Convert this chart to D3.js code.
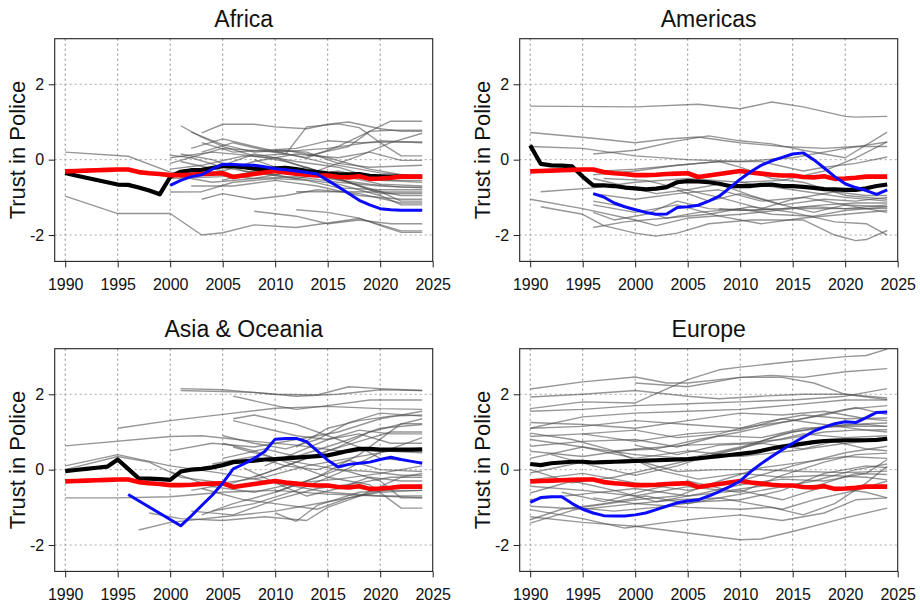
<!DOCTYPE html>
<html>
<head>
<meta charset="utf-8">
<script src="https://cdn.jsdelivr.net/npm/d3@7"></script>
<style>
  html, body { margin: 0; padding: 0; background: #fff; }
  svg { display: block; font-family: "Liberation Sans", Arial, Helvetica, sans-serif; }
</style>
</head>
<body>
<svg id="chart" width="920" height="605"></svg>
<script>
// ---- Axis ticks and panel names ----
const regions = ["Africa", "Americas", "Asia & Oceania", "Europe"];
const xTicks = [1990, 1995, 2000, 2005, 2010, 2015, 2020, 2025];
const yTicks = [-2, 0, 2];

// ---- Global mean (drawn in every panel) ----
const worldStart = 1990;
const worldMean = [-0.31, -0.30, -0.29, -0.28, -0.27, -0.26, -0.26, -0.33, -0.36, -0.38,
                   -0.41, -0.41, -0.40, -0.38, -0.37, -0.36, -0.46, -0.42, -0.38, -0.34,
                   -0.30, -0.34, -0.37, -0.40, -0.42, -0.42, -0.46, -0.47, -0.44, -0.51,
                   -0.50, -0.48, -0.45, -0.45, -0.45];

// ---- Regional means ----
const africaMean = [-0.35, -0.42, -0.48, -0.54, -0.60, -0.66, -0.67, -0.74, -0.82, -0.92,
                    -0.46, -0.32, -0.28, -0.27, -0.22, -0.17, -0.17, -0.20, -0.24, -0.25,
                    -0.23, -0.22, -0.25, -0.30, -0.33, -0.36, -0.38, -0.39, -0.38, -0.43,
                    -0.44, -0.45, -0.45, -0.46, -0.46];
const americasMean = [0.38, -0.11, -0.15, -0.16, -0.18, -0.45, -0.68, -0.68, -0.70, -0.74,
                      -0.76, -0.79, -0.77, -0.73, -0.60, -0.57, -0.58, -0.60, -0.64, -0.70,
                      -0.70, -0.70, -0.67, -0.66, -0.70, -0.70, -0.72, -0.75, -0.78, -0.79,
                      -0.80, -0.80, -0.76, -0.70, -0.66];
const asiaMean = [-0.04, -0.01, 0.02, 0.05, 0.08, 0.27, 0.02, -0.23, -0.24, -0.25,
                  -0.27, -0.05, 0.00, 0.02, 0.06, 0.12, 0.20, 0.22, 0.24, 0.27,
                  0.28, 0.30, 0.32, 0.34, 0.36, 0.38, 0.44, 0.50, 0.55, 0.55,
                  0.53, 0.53, 0.53, 0.53, 0.54];
const europeMean = [0.15, 0.12, 0.17, 0.19, 0.21, 0.21, 0.19, 0.20, 0.21, 0.22,
                    0.23, 0.24, 0.25, 0.26, 0.27, 0.28, 0.30, 0.33, 0.36, 0.39,
                    0.42, 0.45, 0.50, 0.56, 0.61, 0.65, 0.69, 0.73, 0.76, 0.77,
                    0.78, 0.78, 0.78, 0.79, 0.82];

// ---- Highlighted country in each region ([year, value]) ----
const africaFocus = [[2000,-0.68],[2001,-0.55],[2002,-0.45],[2003,-0.40],[2004,-0.25],[2005,-0.12],[2006,-0.13],[2007,-0.14],[2008,-0.15],[2009,-0.19],
                     [2010,-0.24],[2011,-0.27],[2012,-0.30],[2013,-0.34],[2014,-0.38],[2015,-0.55],[2016,-0.72],[2017,-0.90],[2018,-1.08],[2019,-1.20],
                     [2020,-1.30],[2021,-1.33],[2022,-1.34],[2023,-1.34],[2024,-1.34]];
const americasFocus = [[1996,-0.90],[1997,-0.99],[1998,-1.15],[1999,-1.25],
                       [2000,-1.33],[2001,-1.40],[2002,-1.45],[2003,-1.44],[2004,-1.27],[2005,-1.25],[2006,-1.21],[2007,-1.10],[2008,-0.97],[2009,-0.75],
                       [2010,-0.52],[2011,-0.32],[2012,-0.15],[2013,-0.03],[2014,0.06],[2015,0.15],[2016,0.18],[2017,0.00],[2018,-0.22],[2019,-0.45],
                       [2020,-0.64],[2021,-0.74],[2022,-0.82],[2023,-0.92],[2024,-0.80]];
const asiaFocus = [[1996,-0.66],[2001,-1.49],[2002,-1.23],[2003,-0.95],[2004,-0.68],[2005,-0.36],[2006,0.02],[2007,0.15],[2008,0.30],[2009,0.48],
                   [2010,0.81],[2011,0.83],[2012,0.83],[2013,0.74],[2014,0.50],[2015,0.25],[2016,0.07],[2017,0.14],[2018,0.17],[2019,0.20],
                   [2020,0.27],[2021,0.33],[2022,0.27],[2023,0.22],[2024,0.17]];
const europeFocus = [[1990,-0.87],[1991,-0.74],[1992,-0.72],[1993,-0.72],[1994,-0.90],[1995,-1.05],[1996,-1.15],[1997,-1.22],[1998,-1.23],[1999,-1.23],
                     [2000,-1.20],[2001,-1.15],[2002,-1.06],[2003,-0.97],[2004,-0.88],[2005,-0.83],[2006,-0.80],[2007,-0.70],[2008,-0.58],[2009,-0.45],
                     [2010,-0.30],[2011,-0.05],[2012,0.16],[2013,0.35],[2014,0.53],[2015,0.70],[2016,0.86],[2017,1.02],[2018,1.13],[2019,1.22],
                     [2020,1.27],[2021,1.25],[2022,1.38],[2023,1.52],[2024,1.53]];

// ---- Individual countries ([year, value] at each reading) ----
const africaCountries = [
  [[1990,0.20],[1996,0.09],[2000,-0.33],[2003,-0.35],[2008,-0.50],[2012,-0.45],[2016,-0.60],[2020,-0.70],[2024,-0.75]],
  [[1990,-0.97],[1995,-1.43],[2000,-1.43],[2003,-2.00],[2005,-1.94],[2008,-1.73],[2012,-1.80],[2015,-1.68],[2018,-1.56],[2022,-1.89],[2024,-1.89]],
  [[2003,0.71],[2005,0.94],[2008,0.94],[2010,0.87],[2013,0.82],[2015,0.94],[2017,1.00],[2020,0.82],[2022,0.75],[2024,0.75]],
  [[2013,0.10],[2017,0.35],[2019,0.75],[2021,1.02],[2024,1.02]],
  [[2001,0.90],[2003,0.60],[2005,0.35],[2008,0.10],[2011,-0.05],[2014,-0.30],[2017,-0.60],[2020,-0.85],[2022,-1.10],[2024,-1.10]],
  [[2000,0.05],[2004,0.20],[2008,0.10],[2011,0.15],[2013,0.87],[2016,0.95],[2018,0.85],[2020,0.45],[2022,0.10],[2024,0.10]],
  [[2000,-0.10],[2005,0.30],[2010,0.20],[2015,0.30],[2020,0.50],[2024,0.45]],
  [[2002,0.30],[2005,0.55],[2008,0.35],[2012,0.10],[2015,-0.10],[2020,-0.35],[2024,-0.45]],
  [[2000,-0.25],[2003,-0.15],[2007,0.10],[2010,0.05],[2014,-0.30],[2018,0.10],[2021,0.45],[2024,0.70]],
  [[2000,-0.86],[2003,-0.85],[2006,-0.60],[2010,-0.50],[2013,-0.55],[2016,-0.75],[2020,-0.80],[2024,-0.80]],
  [[2003,-1.05],[2005,-0.90],[2008,-1.05],[2011,-0.95],[2014,-0.80],[2018,-0.90],[2022,-1.15],[2024,-1.15]],
  [[2008,-1.37],[2012,-1.50],[2015,-1.70],[2018,-1.60],[2021,-1.70],[2024,-1.70]],
  [[2012,-1.33],[2015,-1.40],[2018,-1.55],[2020,-1.75],[2022,-1.93],[2024,-1.93]],
  [[2012,-0.85],[2016,-0.85],[2020,-0.86],[2024,-0.86]],
  [[2000,0.12],[2002,0.05],[2005,-0.20],[2008,-0.35],[2012,-0.50],[2016,-0.65],[2020,-0.95],[2022,-1.20],[2024,-1.20]],
  [[2001,-0.05],[2005,-0.30],[2008,-0.05],[2012,0.15],[2016,0.05],[2019,0.20],[2022,-0.02],[2024,-0.02]],
  [[2000,-0.50],[2005,-0.45],[2010,-0.25],[2015,-0.50],[2019,-0.65],[2022,-0.73],[2024,-0.73]],
  [[2005,-0.55],[2008,-0.30],[2012,-0.50],[2016,-0.30],[2020,-0.55],[2024,-0.60]],
  [[2003,0.20],[2006,0.45],[2009,0.25],[2012,0.30],[2015,0.50],[2018,0.45],[2021,0.47],[2024,0.47]],
  [[2000,-0.40],[2004,-0.60],[2008,-0.50],[2012,-0.30],[2016,-0.40],[2020,-0.65],[2024,-0.70]],
  [[2002,-0.70],[2006,-0.70],[2010,-0.55],[2014,-0.70],[2018,-0.95],[2022,-1.05],[2024,-1.05]],
  [[2003,0.45],[2006,0.20],[2009,0.25],[2013,0.05],[2016,0.35],[2019,0.75],[2021,0.78],[2024,0.78]],
  [[2008,0.00],[2011,-0.30],[2014,-0.40],[2017,-0.60],[2020,-0.90],[2024,-0.90]],
  [[2010,0.25],[2013,0.20],[2016,-0.10],[2019,-0.20],[2024,-0.15]],
  [[2005,-0.15],[2008,0.15],[2012,-0.05],[2016,-0.20],[2020,-0.55],[2024,-0.55]],
  [[2002,0.73],[2005,0.40],[2008,0.20],[2011,0.25],[2015,0.05],[2019,-0.25],[2022,-0.40],[2024,-0.40]],
  [[2001,0.15],[2004,0.00],[2007,-0.30],[2010,-0.40],[2013,-0.20],[2016,-0.50],[2019,-0.80],[2022,-0.95],[2024,-0.95]]
];

const americasCountries = [
  [[1990,1.42],[2000,1.40],[2006,1.47],[2010,1.35],[2013,1.53],[2016,1.40],[2020,1.15],[2021,1.13],[2024,1.15]],
  [[1990,0.72],[1996,0.57],[2000,0.45],[2003,0.55],[2006,0.60],[2010,0.45],[2014,0.35],[2018,0.30],[2021,0.35],[2024,0.35]],
  [[1996,0.15],[2000,0.25],[2004,0.50],[2007,0.63],[2010,0.50],[2013,0.42],[2016,0.25],[2020,0.05],[2024,0.73]],
  [[1990,0.35],[1995,0.30],[2000,0.10],[2005,0.00],[2010,-0.05],[2015,0.05],[2020,0.30],[2024,0.47]],
  [[1996,-0.40],[2000,-0.30],[2004,-0.15],[2008,-0.05],[2012,-0.05],[2016,-0.30],[2018,-0.20],[2021,-0.10],[2024,0.07]],
  [[1991,-0.85],[1996,-0.75],[2000,-0.60],[2005,-0.50],[2010,-0.60],[2015,-0.80],[2020,-1.00],[2024,-1.10]],
  [[1990,-1.05],[1995,-1.30],[2000,-1.60],[2002,-1.75],[2005,-1.55],[2010,-1.45],[2015,-1.30],[2020,-1.30],[2024,-1.30]],
  [[1991,-1.25],[1995,-1.45],[1997,-1.75],[2000,-1.95],[2002,-2.03],[2004,-1.95],[2007,-1.70],[2011,-1.60],[2016,-1.60],[2019,-2.00],[2021,-2.15],[2022,-2.12],[2024,-1.88]],
  [[1996,-1.80],[1999,-1.65],[2003,-1.55],[2007,-1.45],[2011,-1.25],[2015,-1.40],[2019,-1.65],[2022,-1.70],[2024,-2.00]],
  [[1996,-1.10],[2000,-1.30],[2003,-1.55],[2006,-1.40],[2010,-1.30],[2013,-1.45],[2017,-1.50],[2020,-1.35],[2024,-1.25]],
  [[1996,-0.50],[1999,-0.70],[2002,-0.90],[2005,-0.80],[2008,-0.65],[2011,-0.95],[2014,-1.20],[2018,-1.05],[2021,-1.10],[2024,-1.00]],
  [[1996,-1.40],[1998,-1.60],[2001,-1.45],[2004,-1.10],[2007,-1.30],[2010,-1.35],[2014,-1.30],[2018,-1.20],[2021,-1.15],[2024,-1.15]],
  [[1997,-0.30],[2000,-0.25],[2004,-0.15],[2006,-0.10],[2008,-0.05],[2010,-0.20],[2013,-0.50],[2016,-0.60],[2020,-0.95],[2024,-1.05]],
  [[1996,-0.90],[2000,-1.05],[2004,-0.90],[2008,-0.80],[2012,-1.10],[2016,-1.00],[2020,-1.20],[2024,-1.40]],
  [[2004,-0.80],[2007,-1.10],[2010,-0.90],[2014,-1.20],[2017,-1.40],[2020,-1.20],[2024,-1.25]],
  [[1996,-1.20],[2000,-1.40],[2004,-1.20],[2008,-1.50],[2012,-1.70],[2016,-1.55],[2020,-1.45],[2024,-1.35]],
  [[1997,-0.50],[2001,-0.55],[2004,-0.75],[2008,-1.00],[2012,-1.30],[2015,-1.05],[2019,-0.85],[2022,-0.95],[2024,-0.95]],
  [[2010,-0.60],[2014,-0.55],[2018,-0.30],[2021,0.05],[2024,0.47]],
  [[2008,-1.30],[2011,-1.35],[2014,-1.30],[2017,-1.25],[2020,-1.30],[2024,-1.20]]
];

const asiaCountries = [
  [[2001,2.15],[2005,2.12],[2010,2.00],[2014,1.98],[2017,2.20],[2020,2.15],[2024,2.10]],
  [[2001,2.10],[2008,2.05],[2012,1.95],[2016,2.00],[2020,2.12],[2024,2.10]],
  [[2006,1.95],[2010,1.70],[2012,1.60],[2015,1.70],[2019,1.85],[2024,1.85]],
  [[1990,0.63],[2000,0.88],[2003,0.90],[2008,0.75],[2012,0.65],[2016,0.50],[2020,0.50],[2024,0.45]],
  [[1995,1.10],[2000,1.30],[2006,1.50],[2010,1.63],[2015,1.68],[2020,1.62],[2024,1.60]],
  [[1990,-0.75],[1995,-0.75],[2000,-0.72],[2005,-0.60],[2010,-0.55],[2015,-0.65],[2020,-0.70],[2024,-0.75]],
  [[1990,0.10],[1995,0.40],[2000,0.10],[2005,-0.10],[2010,-0.35],[2015,-0.60],[2020,-0.70],[2024,-0.70]],
  [[1990,0.00],[1995,0.35],[1998,0.20],[2001,-0.20],[2005,-0.35],[2009,-0.20],[2013,0.10],[2017,0.30],[2021,0.50],[2024,0.50]],
  [[1997,-1.60],[2000,-1.40],[2005,-1.25],[2010,-1.10],[2015,-0.85],[2020,-0.60],[2024,-0.55]],
  [[1998,-1.15],[2001,-1.30],[2005,-1.35],[2009,-1.25],[2013,-1.35],[2015,-1.00],[2018,-0.70],[2022,-0.20],[2024,-0.10]],
  [[2003,-1.20],[2006,-0.90],[2010,-0.60],[2014,-0.20],[2018,0.40],[2022,1.22],[2024,1.22]],
  [[2005,0.70],[2008,0.50],[2012,0.10],[2015,-0.20],[2019,-0.40],[2022,-1.02],[2024,-1.02]],
  [[2006,1.35],[2008,1.45],[2012,1.20],[2016,0.80],[2018,0.60],[2020,0.30],[2024,0.20]],
  [[2000,0.50],[2004,0.70],[2008,0.60],[2012,0.80],[2016,1.00],[2020,1.35],[2024,1.55]],
  [[2002,-0.55],[2006,-0.35],[2009,-0.10],[2012,0.20],[2016,0.60],[2019,1.00],[2024,1.35]],
  [[2004,-1.10],[2008,-0.90],[2012,-0.55],[2016,-0.10],[2020,0.45],[2024,0.85]],
  [[2005,0.30],[2009,0.55],[2012,0.35],[2016,0.70],[2020,1.10],[2024,1.20]],
  [[2007,0.05],[2010,-0.35],[2013,-0.70],[2016,-0.50],[2019,-0.20],[2022,-0.30],[2024,-0.30]],
  [[2003,-0.50],[2007,-0.80],[2010,-0.90],[2014,-1.05],[2017,-0.75],[2021,-0.50],[2024,-0.45]],
  [[2006,0.60],[2010,0.30],[2014,0.10],[2017,-0.05],[2020,-0.30],[2022,-0.75],[2024,-0.75]],
  [[2008,-0.20],[2012,0.20],[2015,0.50],[2018,0.75],[2021,1.00],[2024,1.00]],
  [[2010,-0.60],[2013,-0.30],[2016,0.00],[2019,-0.05],[2022,-0.15],[2024,-0.15]],
  [[2010,-1.15],[2012,-1.37],[2014,-0.95],[2018,-0.60],[2021,-0.55],[2024,-0.55]],
  [[2004,0.15],[2008,0.35],[2011,0.10],[2014,0.00],[2017,0.25],[2020,0.00],[2024,-0.05]],
  [[2000,-0.05],[2004,-0.45],[2008,-0.60],[2012,-0.35],[2016,-0.25],[2020,-0.10],[2024,0.10]],
  [[2012,0.60],[2015,1.10],[2018,1.30],[2021,1.42],[2024,1.45]],
  [[2006,1.30],[2009,1.10],[2012,0.90],[2015,0.80],[2018,0.95],[2021,0.70],[2024,0.70]],
  [[2009,0.10],[2012,0.45],[2015,0.80],[2018,1.05],[2021,0.95],[2024,0.95]],
  [[2002,-1.10],[2006,-1.20],[2010,-0.80],[2014,-0.50],[2018,-0.35],[2021,-0.20],[2024,-0.20]],
  [[2005,0.90],[2008,0.70],[2011,0.55],[2014,0.80],[2017,1.25],[2020,1.50],[2024,1.42]]
];

const europeCountries = [
  [[1990,1.62],[1995,1.80],[2000,1.77],[2005,2.39],[2008,2.65],[2010,2.72],[2015,2.87],[2020,3.00],[2022,3.03],[2024,3.20]],
  [[1990,2.14],[1995,2.33],[2000,2.46],[2003,2.30],[2005,2.30],[2010,2.45],[2013,2.50],[2016,2.45],[2020,2.60],[2024,2.68]],
  [[1990,1.93],[1995,2.00],[2000,2.10],[2005,1.95],[2008,1.88],[2012,1.95],[2016,2.00],[2020,2.00],[2024,1.90]],
  [[2000,2.30],[2005,2.20],[2010,2.45],[2014,2.45],[2017,2.30],[2020,2.00],[2024,1.86]],
  [[1990,1.55],[1995,1.60],[2000,1.70],[2005,1.75],[2010,1.80],[2015,1.85],[2020,1.95],[2024,2.15]],
  [[1990,1.10],[1995,1.40],[2000,1.50],[2005,1.55],[2010,1.60],[2015,1.72],[2020,1.85],[2024,1.85]],
  [[1990,1.10],[1995,1.15],[2000,1.30],[2005,1.20],[2010,1.10],[2015,1.30],[2020,1.60],[2024,1.70]],
  [[1990,0.97],[1994,0.80],[1998,0.50],[2002,0.55],[2006,0.80],[2010,1.00],[2014,1.25],[2018,1.45],[2021,1.65],[2024,1.46]],
  [[1990,0.88],[1995,0.95],[2000,1.05],[2004,0.85],[2008,0.95],[2012,1.25],[2016,1.45],[2020,1.35],[2024,1.37]],
  [[1990,0.80],[1995,0.60],[2000,0.40],[2005,0.30],[2010,0.60],[2015,1.00],[2020,1.20],[2024,1.24]],
  [[1990,0.62],[1995,0.75],[2000,0.80],[2004,0.60],[2008,0.90],[2012,0.85],[2016,1.10],[2020,1.15],[2024,1.15]],
  [[1990,0.49],[1995,0.35],[2000,0.55],[2005,0.65],[2010,0.70],[2014,0.80],[2018,1.00],[2021,1.05],[2024,1.06]],
  [[1990,0.30],[1995,0.60],[2000,0.30],[2005,0.50],[2010,0.35],[2015,0.50],[2020,0.70],[2024,0.80]],
  [[1990,-0.09],[1995,0.20],[2000,0.25],[2004,-0.05],[2008,0.00],[2012,0.00],[2016,-0.05],[2020,-0.08],[2024,-0.04]],
  [[1990,-0.27],[1995,-0.10],[2000,-0.35],[2005,-0.55],[2010,-0.30],[2015,0.10],[2020,0.45],[2024,0.62]],
  [[1990,-0.44],[1995,-0.55],[2000,-0.70],[2005,-0.45],[2010,-0.60],[2014,-0.15],[2018,0.20],[2021,0.40],[2024,0.44]],
  [[1990,-0.62],[1994,-0.30],[1998,-0.55],[2002,-0.85],[2006,-0.65],[2010,-0.40],[2014,-0.25],[2018,-0.30],[2022,-0.10],[2024,0.27]],
  [[1990,-0.80],[1995,-0.65],[2000,-0.50],[2005,-0.70],[2010,-0.55],[2014,-0.80],[2018,-0.45],[2022,-0.60],[2024,-0.75]],
  [[1990,-0.97],[1995,-1.05],[2000,-0.90],[2005,-1.00],[2010,-1.05],[2013,-1.00],[2016,-1.20],[2019,-0.90],[2022,-0.35],[2024,0.09]],
  [[1990,-1.06],[1995,-1.30],[1999,-1.55],[2003,-1.40],[2006,-1.30],[2010,-1.20],[2014,-1.35],[2018,-1.15],[2021,-0.80],[2024,-0.75]],
  [[1990,-1.25],[1995,-1.40],[2000,-1.50],[2005,-1.68],[2010,-1.86],[2012,-1.84],[2015,-1.64],[2020,-1.28],[2024,-1.02]],
  [[1990,-1.33],[1993,-1.05],[1997,-0.90],[2001,-0.70],[2005,-0.90],[2009,-0.70],[2013,-0.50],[2017,-0.30],[2021,0.00],[2024,0.15]],
  [[1990,-1.42],[1995,-1.00],[2000,-0.80],[2004,-0.70],[2008,-0.30],[2012,0.05],[2016,0.20],[2020,0.35],[2024,0.30]],
  [[1990,0.00],[1994,-0.35],[1998,-0.20],[2002,0.05],[2006,0.30],[2010,0.55],[2014,0.95],[2018,1.15],[2022,1.20],[2024,1.15]],
  [[1993,-0.60],[1997,-0.85],[2001,-0.55],[2005,-0.30],[2009,-0.55],[2013,-0.40],[2017,-0.45],[2021,-0.10],[2024,-0.13]],
  [[1995,0.95],[2000,0.75],[2005,0.95],[2010,1.05],[2014,1.35],[2018,1.20],[2022,1.05],[2024,1.00]],
  [[1998,0.50],[2002,0.00],[2006,-0.25],[2010,-0.10],[2014,-0.20],[2018,-0.15],[2022,-0.20],[2024,-0.27]],
  [[1996,-0.75],[2000,-0.90],[2004,-0.80],[2008,-0.75],[2011,-0.90],[2014,-1.05],[2017,-0.80],[2021,-0.55],[2024,-0.30]],
  [[2000,0.65],[2004,0.40],[2008,0.65],[2012,0.70],[2016,0.55],[2019,0.75],[2022,0.55],[2024,0.50]],
  [[1990,1.25],[1995,1.20],[2000,1.10],[2005,1.30],[2010,1.50],[2014,1.45],[2018,1.55],[2022,1.35],[2024,1.30]],
  [[1992,0.40],[1996,0.10],[2000,-0.15],[2004,0.10],[2008,0.45],[2012,0.70],[2016,0.95],[2020,0.85],[2024,0.90]],
  [[1994,-1.00],[1998,-1.10],[2002,-1.00],[2006,-0.85],[2010,-0.80],[2014,-0.55],[2018,-0.10],[2022,0.10],[2024,0.05]]
];

// ---- Assemble panels from the arrays above ----
function annual(start, values) { return values.map((v, i) => [start + i, v]); }
const world = annual(worldStart, worldMean);
const panelData = [
  { name: regions[0], countries: africaCountries,   mean: annual(1990, africaMean),   focus: africaFocus },
  { name: regions[1], countries: americasCountries, mean: annual(1990, americasMean), focus: americasFocus },
  { name: regions[2], countries: asiaCountries,     mean: annual(1990, asiaMean),     focus: asiaFocus },
  { name: regions[3], countries: europeCountries,   mean: annual(1990, europeMean),   focus: europeFocus }
];
const origins = [[54.7, 38.7], [519.7, 38.7], [54.7, 348.7], [519.7, 348.7]];

const W = 378, H = 222.7;
const x = d3.scaleLinear().domain([1989, 2025]).range([0, W]);
const y = d3.scaleLinear().domain([-2.7, 3.21]).range([H, 0]);
const line = d3.line().x(d => x(d[0])).y(d => y(d[1]));

const svg = d3.select("#chart");

panelData.forEach((p, i) => {
  const [ox, oy] = origins[i];
  const g = svg.append("g").attr("transform", `translate(${ox},${oy})`);

  g.append("clipPath").attr("id", "clip" + i)
    .append("rect").attr("width", W).attr("height", H);

  // dotted grid
  const grid = g.append("g").attr("stroke-width", 1).attr("stroke-dasharray", "2,3");
  grid.selectAll("line.v").data(xTicks.filter(t => t < 2025)).join("line")
    .attr("class", "v")
    .attr("x1", d => x(d)).attr("x2", d => x(d))
    .attr("y1", 0).attr("y2", H)
    .attr("stroke", "#8a8a8a");
  grid.selectAll("line.h").data(yTicks).join("line")
    .attr("class", "h")
    .attr("x1", 0).attr("x2", W)
    .attr("y1", d => y(d)).attr("y2", d => y(d))
    .attr("stroke", "#a8a8a8");

  const plot = g.append("g").attr("clip-path", `url(#clip${i})`);

  // countries
  plot.selectAll("path.country").data(p.countries).join("path")
    .attr("class", "country")
    .attr("d", line)
    .attr("fill", "none")
    .attr("stroke", "rgba(80,80,80,0.6)")
    .attr("stroke-width", 1.4)
    .attr("stroke-linejoin", "round");

  // regional mean
  plot.append("path").datum(p.mean)
    .attr("d", line).attr("fill", "none")
    .attr("stroke", "#000").attr("stroke-width", 4.2)
    .attr("stroke-linejoin", "round");

  // global mean
  plot.append("path").datum(world)
    .attr("d", line).attr("fill", "none")
    .attr("stroke", "#ff0000").attr("stroke-width", 4.6)
    .attr("stroke-linejoin", "round");

  // highlighted country
  plot.append("path").datum(p.focus)
    .attr("d", line).attr("fill", "none")
    .attr("stroke", "#0a0aff").attr("stroke-width", 3)
    .attr("stroke-linejoin", "round");

  // frame
  g.append("rect").attr("width", W).attr("height", H)
    .attr("fill", "none").attr("stroke", "#222").attr("stroke-width", 1.1);

  // axes
  const xa = g.append("g").attr("transform", `translate(0,${H})`)
    .call(d3.axisBottom(x).tickValues(xTicks).tickFormat(d3.format("d"))
      .tickSize(6).tickSizeOuter(0).tickPadding(11));
  const ya = g.append("g")
    .call(d3.axisLeft(y).tickValues(yTicks).tickFormat(d => d < 0 ? "-" + Math.abs(d) : d)
      .tickSize(6).tickSizeOuter(0).tickPadding(4.5));
  [xa, ya].forEach(a => {
    a.select(".domain").remove();
    a.selectAll(".tick line").attr("stroke", "#222");
    a.selectAll(".tick text").attr("fill", "#111")
      .style("font-size", "16px")
      .style("font-family", '"Liberation Sans", Arial, sans-serif');
  });

  // title
  g.append("text").attr("x", W / 2).attr("y", -11.7)
    .attr("text-anchor", "middle").attr("fill", "#111")
    .style("font-size", "23px").text(p.name);

  // y label
  g.append("text")
    .attr("transform", `translate(-29.7,${H / 2}) rotate(-90)`)
    .attr("text-anchor", "middle").attr("fill", "#111")
    .style("font-size", "22px").text("Trust in Police");
});
</script>
</body>
</html>
